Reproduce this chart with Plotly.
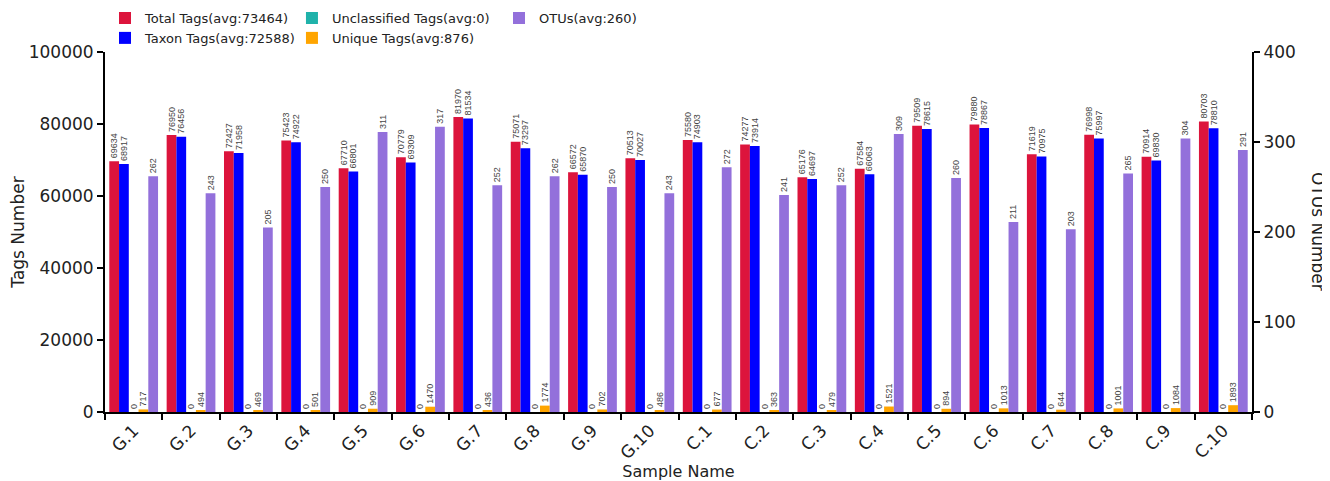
import plotly.graph_objects as go

samples = ["G.1", "G.2", "G.3", "G.4", "G.5", "G.6", "G.7", "G.8", "G.9", "G.10",
           "C.1", "C.2", "C.3", "C.4", "C.5", "C.6", "C.7", "C.8", "C.9", "C.10"]
total_tags = [69634, 76950, 72427, 75423, 67710, 70779, 81970, 75071, 66572, 70513,
              75580, 74277, 65176, 67584, 79509, 79880, 71619, 76998, 70914, 80703]
taxon_tags = [68917, 76456, 71958, 74922, 66801, 69309, 81534, 73297, 65870, 70027,
              74903, 73914, 64697, 66063, 78615, 78867, 70975, 75997, 69830, 78810]
unclassified_tags = [0] * 20
unique_tags = [717, 494, 469, 501, 909, 1470, 436, 1774, 702, 486,
               677, 363, 479, 1521, 894, 1013, 644, 1001, 1084, 1893]
otus = [262, 243, 205, 250, 311, 317, 252, 262, 250, 243,
        272, 241, 252, 309, 260, 211, 203, 265, 304, 291]

names = ["Total Tags(avg:73464)", "Taxon Tags(avg:72588)", "Unclassified Tags(avg:0)",
         "Unique Tags(avg:876)", "OTUs(avg:260)"]
colors = ["#DC143C", "#0000FF", "#20B2AA", "#FFA500", "#9370DB"]
series = [total_tags, taxon_tags, unclassified_tags, unique_tags, otus]
yaxes = ["y", "y", "y", "y", "y2"]
legends = ["legend", "legend", "legend2", "legend2", "legend3"]

W = 0.17
fig = go.Figure()
for i, (nm, col, vals, ya, lg) in enumerate(zip(names, colors, series, yaxes, legends)):
    fig.add_trace(go.Bar(
        x=samples, y=vals, name=nm, marker_color=col, marker_line_width=0,
        yaxis=ya, legend=lg, width=W, offset=-0.425 + i * W,
        text=[str(v) for v in vals], textposition="outside", textangle=-90,
        constraintext="none", cliponaxis=False,
        textfont=dict(family="Liberation Sans", size=9, color="#444444"),
    ))

axis_font = dict(family="DejaVu Sans", size=17, color="#222222")
leg_font = dict(family="DejaVu Sans", size=13, color="#222222")
fig.update_layout(
    template="none",
    width=1322, height=473,
    margin=dict(l=97, r=78, t=44, b=69, autoexpand=False),
    paper_bgcolor="white", plot_bgcolor="white",
    barmode="overlay",
    font=dict(family="DejaVu Sans", color="#222222"),
    xaxis=dict(
        type="category", showline=True, linecolor="black", linewidth=2,
        ticks="outside", tickson="boundaries", ticklen=6, tickwidth=2, tickcolor="black",
        tickangle=-45, tickfont=axis_font, showgrid=False, zeroline=False, automargin=False,
        title=dict(text="Sample Name", font=dict(family="DejaVu Sans", size=16), standoff=4),
    ),
    yaxis=dict(
        range=[0, 100000], dtick=20000, tickformat="d", showline=True, linecolor="black",
        linewidth=2, ticks="outside", ticklen=6, tickwidth=2, tickcolor="black",
        tickfont=axis_font, showgrid=False, zeroline=False, automargin=False,
        title=dict(text="Tags Number", font=dict(family="DejaVu Sans", size=17), standoff=10),
    ),
    yaxis2=dict(
        range=[0, 400], dtick=100, tickformat="d", overlaying="y", side="right", anchor="x",
        showline=True, linecolor="black", linewidth=2,
        ticks="outside", ticklen=6, tickwidth=2, tickcolor="black",
        tickfont=axis_font, showgrid=False, zeroline=False, automargin=False,
    ),
    legend=dict(x=0.0, y=1.136, xanchor="left", yanchor="top", font=leg_font,
                bgcolor="rgba(0,0,0,0)", tracegroupgap=0),
    legend2=dict(x=0.163, y=1.136, xanchor="left", yanchor="top", font=leg_font,
                 bgcolor="rgba(0,0,0,0)", tracegroupgap=0),
    legend3=dict(x=0.3435, y=1.136, xanchor="left", yanchor="top", font=leg_font,
                 bgcolor="rgba(0,0,0,0)", tracegroupgap=0),
    annotations=[dict(text="OTUs Number", textangle=90, xref="paper", yref="paper",
                      x=1.0575, y=0.5, xanchor="center", yanchor="middle", showarrow=False,
                      font=dict(family="DejaVu Sans", size=17, color="#222222"))],
)
fig.write_html("out.html")
